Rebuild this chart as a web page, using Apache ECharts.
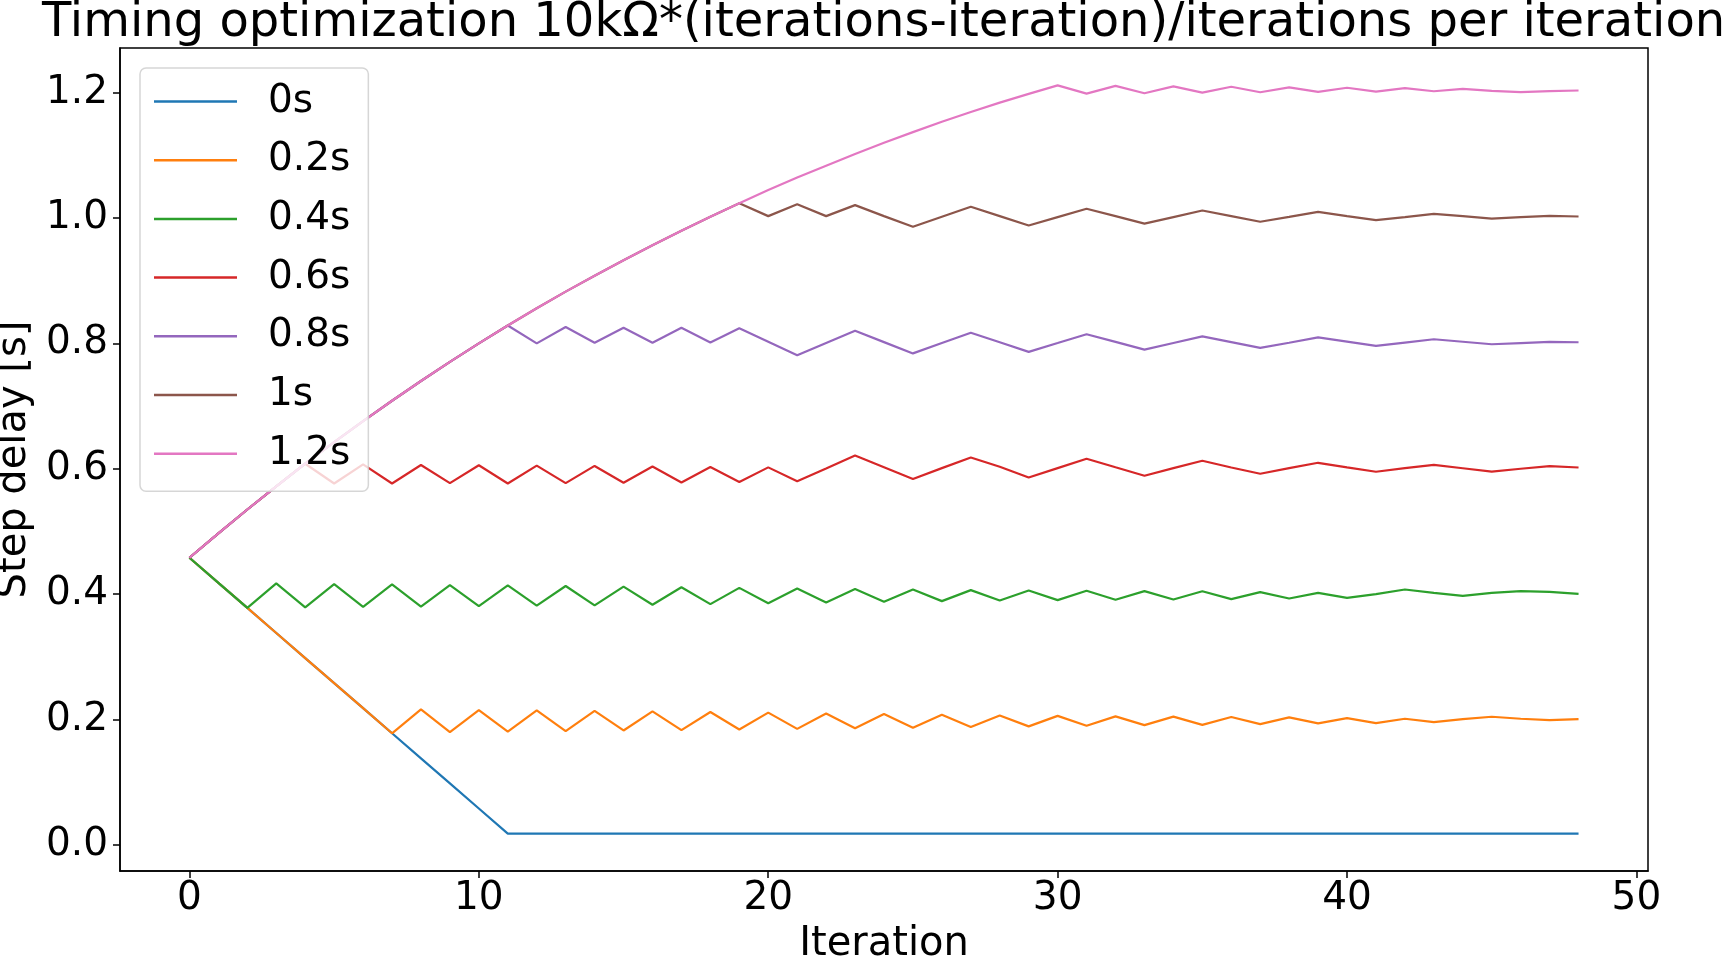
<!DOCTYPE html>
<html>
<head>
<meta charset="utf-8">
<title>Timing optimization</title>
<script src="https://cdn.jsdelivr.net/npm/echarts@6/dist/echarts.min.js"></script>
<style>
  html, body { margin: 0; padding: 0; background: #fff; }
  #chart { width: 1725px; height: 959px; }
</style>
</head>
<body>
<div id="chart"></div>
<script>
// iteration index on the x axis
const iterations = [
  0, 1, 2, 3, 4, 5, 6, 7, 8, 9, 10, 11, 12, 13, 14, 15, 16, 17, 18, 19, 20, 21, 22, 23, 24,
  25, 26, 27, 28, 29, 30, 31, 32, 33, 34, 35, 36, 37, 38, 39, 40, 41, 42, 43, 44, 45, 46, 47, 48
];

// step delay [s] per target
const delay0s = [
  0.458, 0.418, 0.378, 0.338, 0.298, 0.258, 0.218, 0.178,
  0.138, 0.098, 0.058, 0.018, 0.018, 0.018, 0.018, 0.018,
  0.018, 0.018, 0.018, 0.018, 0.018, 0.018, 0.018, 0.018,
  0.018, 0.018, 0.018, 0.018, 0.018, 0.018, 0.018, 0.018,
  0.018, 0.018, 0.018, 0.018, 0.018, 0.018, 0.018, 0.018,
  0.018, 0.018, 0.018, 0.018, 0.018, 0.018, 0.018, 0.018,
  0.018
];
const delay02s = [
  0.458, 0.418, 0.378, 0.338, 0.298, 0.258, 0.218, 0.178,
  0.216, 0.180, 0.215, 0.1805, 0.2145, 0.1815, 0.2138, 0.1825,
  0.213, 0.183, 0.212, 0.184, 0.211, 0.185, 0.2097, 0.186,
  0.2086, 0.187, 0.2076, 0.188, 0.2065, 0.189, 0.2058, 0.190,
  0.205, 0.191, 0.2045, 0.1915, 0.204, 0.1927, 0.2033, 0.1938,
  0.2022, 0.1943, 0.2012, 0.1959, 0.2006, 0.2044, 0.2012, 0.1991,
  0.2006
];
const delay04s = [
  0.458, 0.418, 0.378, 0.417, 0.379, 0.416, 0.3795, 0.4155,
  0.380, 0.4145, 0.3808, 0.414, 0.3815, 0.413, 0.382, 0.412,
  0.383, 0.411, 0.384, 0.410, 0.3855, 0.409, 0.3868, 0.408,
  0.388, 0.4074, 0.3888, 0.4064, 0.3899, 0.4058, 0.3904, 0.4053,
  0.391, 0.4048, 0.3915, 0.4045, 0.392, 0.4032, 0.393, 0.4021,
  0.3941, 0.3999, 0.4074, 0.4021, 0.3973, 0.4021, 0.4048, 0.4037,
  0.4005
];
const delay06s = [
  0.458, 0.497, 0.535, 0.572, 0.608, 0.5765, 0.607, 0.5765,
  0.606, 0.577, 0.6055, 0.5765, 0.605, 0.577, 0.6045, 0.5776,
  0.6035, 0.578, 0.6027, 0.579, 0.6022, 0.580, 0.6005, 0.6213,
  0.6024, 0.5835, 0.601, 0.618, 0.6031, 0.5861, 0.601, 0.6159,
  0.6023, 0.5888, 0.601, 0.6127, 0.602, 0.592, 0.601, 0.6095,
  0.6023, 0.5952, 0.601, 0.6063, 0.6008, 0.5953, 0.600, 0.6042,
  0.602
];
const delay08s = [
  0.458, 0.497, 0.535, 0.572, 0.608, 0.6425, 0.676, 0.7085,
  0.740, 0.7705, 0.800, 0.8285, 0.800, 0.826, 0.801, 0.825,
  0.801, 0.825, 0.8014, 0.824, 0.8025, 0.781, 0.8005, 0.820,
  0.802, 0.784, 0.8005, 0.817, 0.8018, 0.7865, 0.8005, 0.8146,
  0.8023, 0.790, 0.8006, 0.8112, 0.802, 0.7929, 0.801, 0.8095,
  0.8027, 0.796, 0.8013, 0.8066, 0.8026, 0.7986, 0.8005, 0.8023,
  0.8018
];
const delay1s = [
  0.458, 0.497, 0.535, 0.572, 0.608, 0.6425, 0.676, 0.7085,
  0.740, 0.7705, 0.800, 0.8285, 0.856, 0.8825, 0.908, 0.9325,
  0.9565, 0.9795, 1.002, 1.0235, 1.003, 1.022, 1.003, 1.0205,
  1.003, 0.986, 1.002, 1.018, 1.003, 0.988, 1.0014, 1.0148,
  1.003, 0.991, 1.0015, 1.012, 1.003, 0.994, 1.0017, 1.0097,
  1.003, 0.9965, 1.0015, 1.0066, 1.003, 0.9991, 1.0013, 1.0035,
  1.0024
];
const delay12s = [
  0.458, 0.497, 0.535, 0.572, 0.608, 0.6425, 0.676, 0.7085,
  0.740, 0.7705, 0.800, 0.8285, 0.856, 0.8825, 0.908, 0.9325,
  0.9565, 0.9795, 1.002, 1.0235, 1.0445, 1.0645, 1.0835, 1.102,
  1.120, 1.137, 1.1535, 1.169, 1.184, 1.198, 1.2115, 1.1985,
  1.2107, 1.199, 1.210, 1.200, 1.2094, 1.2006, 1.2083, 1.2011,
  1.2078, 1.2016, 1.2073, 1.2022, 1.206, 1.2028, 1.2007, 1.2023,
  1.2034
];

const seriesNames = ['0s', '0.2s', '0.4s', '0.6s', '0.8s', '1s', '1.2s'];
const seriesValues = [delay0s, delay02s, delay04s, delay06s, delay08s, delay1s, delay12s];
const seriesColors = ['#1f77b4', '#ff7f0e', '#2ca02c', '#d62728', '#9467bd', '#8c564b', '#e377c2'];

const xTicks = [0, 10, 20, 30, 40, 50];
const yTicks = [0, 0.2, 0.4, 0.6, 0.8, 1.0, 1.2];

const titleText = 'Timing optimization 10kΩ*(iterations-iteration)/iterations per iteration';
const font = 'DejaVu Sans';

const chart = echarts.init(document.getElementById('chart'));

const series = seriesNames.map((name, k) => ({
  name: name,
  type: 'line',
  data: iterations.map((it, j) => [it, seriesValues[k][j]]),
  symbol: 'none',
  showSymbol: false,
  lineStyle: { color: seriesColors[k], width: 2.2 },
  itemStyle: { color: seriesColors[k] }
}));

const option = {
  animation: false,
  backgroundColor: '#fff',
  textStyle: { fontFamily: font },
  title: {
    text: titleText,
    left: 42,
    top: 0,
    padding: 0,
    textStyle: { fontSize: 48, fontWeight: 'normal', color: '#000', fontFamily: font }
  },
  grid: {
    left: 120,
    top: 48,
    width: 1528,
    height: 823,
    containLabel: false,
    outerBoundsMode: 'none',
    show: true,
    borderColor: '#000',
    borderWidth: 1.5,
    backgroundColor: 'transparent'
  },
  legend: {
    orient: 'vertical',
    left: 140,
    top: 68,
    icon: 'rect',
    itemWidth: 83,
    itemHeight: 2.5,
    itemGap: 19.7,
    padding: [14, 18, 18, 14],
    backgroundColor: 'rgba(255,255,255,0.8)',
    borderColor: 'rgba(204,204,204,0.8)',
    borderWidth: 1.5,
    borderRadius: 6,
    textStyle: { fontSize: 39, color: '#000', lineHeight: 39, fontFamily: font, padding: [0, 0, 0, 26] },
    data: seriesNames
  },
  xAxis: {
    type: 'value',
    min: -2.4,
    max: 50.4,
    name: 'Iteration',
    nameLocation: 'middle',
    nameGap: 54,
    nameTextStyle: { fontSize: 40, color: '#000', fontFamily: font },
    axisLine: { show: true, onZero: false, lineStyle: { color: '#000', width: 1.5 } },
    axisTick: { show: true, length: 7, customValues: xTicks, lineStyle: { color: '#000', width: 1.5 } },
    axisLabel: { customValues: xTicks, fontSize: 39, color: '#000', margin: 8, fontFamily: font },
    splitLine: { show: false }
  },
  yAxis: {
    type: 'value',
    min: -0.0417,
    max: 1.2712,
    name: 'Step delay [s]',
    nameLocation: 'middle',
    nameGap: 74,
    nameTextStyle: { fontSize: 40, color: '#000', fontFamily: font },
    axisLine: { show: true, onZero: false, lineStyle: { color: '#000', width: 1.5 } },
    axisTick: { show: true, length: 7, customValues: yTicks, lineStyle: { color: '#000', width: 1.5 } },
    axisLabel: {
      customValues: yTicks,
      fontSize: 39,
      color: '#000',
      margin: 12,
      fontFamily: font,
      formatter: v => v.toFixed(1)
    },
    splitLine: { show: false }
  },
  series: series
};

chart.setOption(option);
</script>
</body>
</html>
